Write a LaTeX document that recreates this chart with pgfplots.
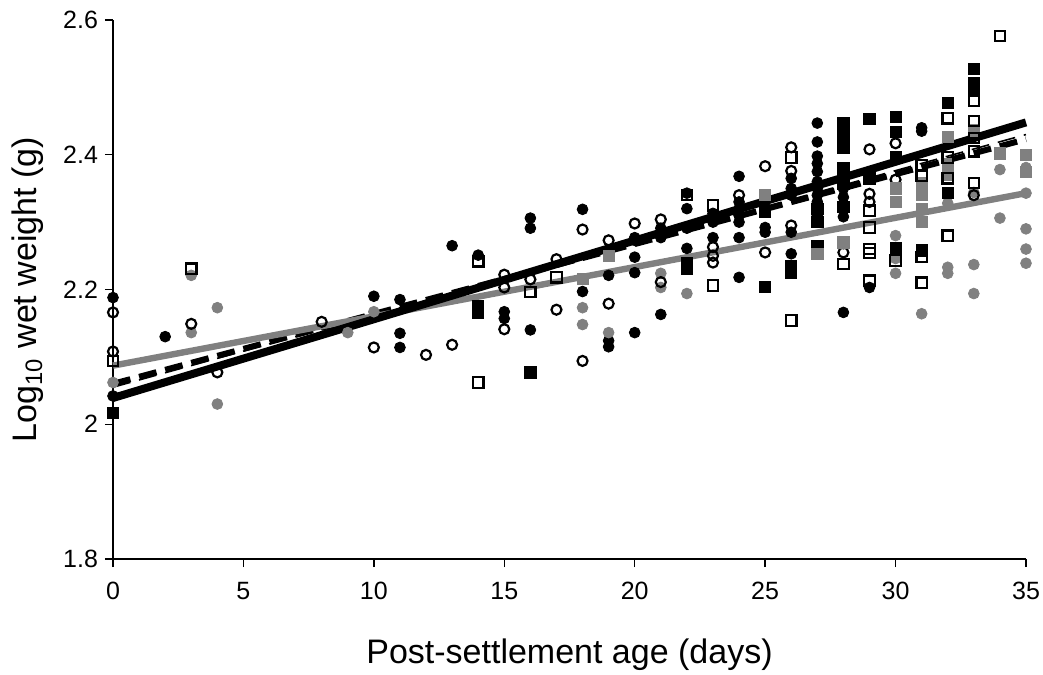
\documentclass[border=0pt]{standalone}
\usepackage{fontspec}
\setmainfont{Liberation Sans}
\usepackage{pgfplots}
\pgfplotsset{compat=1.18}
\usetikzlibrary{calc}
\definecolor{gr}{RGB}{128,128,128}

\begin{document}
\begin{tikzpicture}
\begin{axis}[
  scale only axis, width=456.5bp, height=269.5bp,
  xmin=0, xmax=35, ymin=1.8, ymax=2.6,
  axis x line*=bottom, axis y line*=left,
  axis line style={-, line width=0.7bp},
  xtick={0,5,10,15,20,25,30,35},
  ytick={1.8,2,2.2,2.4,2.6},
  tick align=outside, major tick length=4bp,
  tick style={line width=0.7bp, black},
  /pgf/number format/assume math mode=true,
  yticklabel style={/pgf/number format/.cd, fixed, precision=1},
  ticklabel style={font=\fontsize{12.5bp}{15bp}\selectfont},
  xticklabel style={yshift=-4bp},
  label style={font=\fontsize{17bp}{20bp}\selectfont},
  xlabel={Post-settlement age (days)},
  ylabel={Log\textsubscript{10} wet weight (g)},
  xlabel style={at={(axis description cs:0.5,-0.178)}, anchor=center},
  ylabel style={at={(axis description cs:-0.093,0.5)}, anchor=center},
  clip=false,
]
\coordinate (bl) at (rel axis cs:0,0);
\coordinate (tr) at (rel axis cs:1,1);

% black filled circles
\addplot[only marks, mark=*, mark size=2.7bp, mark options={fill=black, draw=black}] table {
x y
0 2.188
0 2.042
2 2.130
10 2.190
11 2.185
11 2.135
11 2.114
13 2.265
14 2.251
15 2.167
15 2.157
16 2.306
16 2.291
16 2.140
18 2.319
18 2.197
19 2.221
19 2.124
19 2.115
20 2.277
20 2.273
20 2.248
20 2.225
20 2.136
21 2.291
21 2.277
21 2.163
22 2.343
22 2.320
22 2.291
22 2.261
23 2.313
23 2.300
23 2.277
24 2.368
24 2.330
24 2.320
24 2.310
24 2.300
24 2.277
24 2.218
25 2.322
25 2.292
25 2.285
26 2.365
26 2.350
26 2.340
26 2.285
26 2.253
27 2.447
27 2.419
27 2.398
27 2.387
27 2.375
27 2.360
27 2.350
27 2.340
27 2.330
27 2.310
27 2.300
28 2.350
28 2.337
28 2.308
28 2.268
28 2.166
29 2.203
31 2.440
31 2.435
};

% gray filled circles
\addplot[only marks, mark=*, mark size=2.7bp, mark options={fill=gr, draw=gr}] table {
x y
0 2.062
3 2.221
3 2.136
4 2.173
4 2.030
9 2.136
10 2.167
18 2.173
18 2.148
19 2.136
21 2.224
21 2.203
22 2.194
30 2.280
30 2.246
30 2.224
31 2.164
32 2.328
32 2.233
32 2.224
33 2.344
33 2.237
33 2.194
34 2.378
34 2.306
35 2.381
35 2.343
35 2.290
35 2.260
35 2.239
};

% open circles
\addplot[only marks, mark=o, mark size=2.5bp, mark options={fill=white, draw=black, line width=1.1bp}] table {
x y
0 2.166
0 2.108
3 2.149
4 2.077
8 2.152
10 2.114
12 2.103
13 2.118
15 2.222
15 2.203
15 2.141
16 2.215
17 2.245
17 2.170
18 2.289
18 2.094
19 2.273
19 2.179
20 2.298
21 2.304
21 2.211
23 2.263
23 2.250
23 2.240
24 2.340
25 2.383
25 2.255
26 2.411
26 2.376
26 2.295
28 2.255
29 2.408
29 2.342
29 2.330
30 2.417
30 2.363
33 2.340
};

% black filled squares
\addplot[only marks, mark=square*, mark size=2.8bp, mark options={fill=black, draw=black}] table {
x y
0 2.017
14 2.175
14 2.165
16 2.077
22 2.240
22 2.230
25 2.315
25 2.204
26 2.235
26 2.225
27 2.320
27 2.300
27 2.265
28 2.447
28 2.435
28 2.420
28 2.410
28 2.380
28 2.365
28 2.357
28 2.323
29 2.453
29 2.365
30 2.456
30 2.434
30 2.396
30 2.261
31 2.258
32 2.477
32 2.343
33 2.527
33 2.506
33 2.496
};

% gray filled squares
\addplot[only marks, mark=square*, mark size=2.8bp, mark options={fill=gr, draw=gr}] table {
x y
18 2.216
19 2.250
25 2.340
27 2.253
28 2.270
30 2.350
30 2.330
31 2.358
31 2.340
31 2.320
31 2.300
32 2.426
32 2.387
32 2.370
33 2.436
34 2.402
35 2.400
35 2.374
};

% open squares
\addplot[only marks, mark=square, mark size=2.6bp, mark options={fill=white, draw=black, line width=1.1bp}] table {
x y
0 2.094
3 2.231
14 2.242
14 2.062
16 2.196
17 2.218
22 2.340
23 2.325
23 2.206
26 2.396
26 2.154
28 2.238
29 2.317
29 2.292
29 2.260
29 2.254
29 2.213
30 2.243
31 2.384
31 2.369
31 2.248
31 2.210
32 2.454
32 2.396
32 2.365
32 2.280
33 2.480
33 2.450
33 2.425
33 2.405
33 2.358
34 2.576
};

% regression lines
\addplot[black, line width=3bp, dash pattern=on 9bp off 4.5bp] coordinates {(0,2.060) (35,2.423)};
\addplot[black, line width=0.8bp, dash pattern=on 9bp off 4.5bp] coordinates {(0,2.055) (35,2.430)};
\addplot[gr, line width=3.2bp] coordinates {(0,2.087) (35,2.343)};
\addplot[black, line width=4bp] coordinates {(0,2.039) (35,2.448)};
\end{axis}
\pgfresetboundingbox
\path ($(bl)+(-56.5bp,-58bp)$) rectangle ($(tr)+(8.5bp,10bp)$);
\end{tikzpicture}
\end{document}
